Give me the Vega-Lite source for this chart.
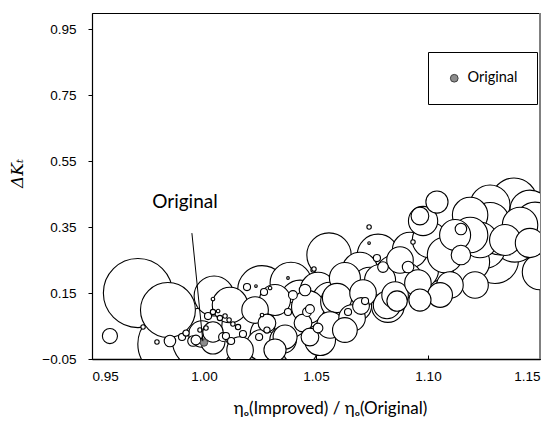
{
  "$schema": "https://vega.github.io/schema/vega-lite/v6.json",
  "width": 448,
  "height": 346,
  "autosize": {"type": "none"},
  "padding": {"left": 92, "top": 13, "right": 10, "bottom": 68},
  "config": {"view": {"stroke": "#000", "strokeWidth": 1}, "font": "Liberation Sans"},
  "encoding": {
    "x": {"field": "x", "type": "quantitative", "scale": {"domain": [0.95, 1.15], "nice": false, "zero": false},
      "title": "ηₒ(Improved) / ηₒ(Original)",
      "axis": {"values": [0.95, 1.0, 1.05, 1.1, 1.15], "format": ".2f", "grid": false, "domainColor": "#000", "domainWidth": 1.5,
        "tickColor": "#000", "tickSize": -4, "labelPadding": 14, "labelFontSize": 13.5, "labelColor": "#000", "labelFont": "Liberation Sans",
        "titleFont": "Lato", "titleFontSize": 17, "titleFontWeight": "normal", "titleColor": "#000", "titleX": 238, "titlePadding": 18}},
    "y": {"field": "y", "type": "quantitative", "scale": {"domain": [-0.05, 1.0], "nice": false, "zero": false},
      "title": "ΔKₜ",
      "axis": {"values": [-0.05, 0.15, 0.35, 0.55, 0.75, 0.95], "format": ".2f", "grid": false, "domainColor": "#000", "domainWidth": 1.2,
        "tickColor": "#000", "tickSize": 4, "labelPadding": 12, "labelFontSize": 13.5, "labelColor": "#000", "labelFont": "Liberation Sans",
        "titleFont": "DejaVu Serif", "titleFontStyle": "italic", "titleFontSize": 17, "titleFontWeight": "normal", "titleColor": "#000",
        "titleX": -66, "titleY": 160}}
  },
  "layer": [
    {
      "data": {"values": [{"x": 1.15, "y": -0.05, "y2": 1.0}]},
      "mark": {"type": "rule", "stroke": "#808080", "strokeWidth": 2},
      "encoding": {"y2": {"field": "y2"}}
    },
    {
      "data": {"values": [
        {"x":0.9705,"y":0.1502,"w":60.8},{"x":0.9839,"y":0.0986,"w":38.4},{"x":0.958,"y":0.0197,"w":2.9},
        {"x":0.9853,"y":-0.0046,"w":56.3},{"x":0.9996,"y":0.0106,"w":49},{"x":1.0045,"y":0.1411,"w":20.3},
        {"x":0.9991,"y":0.0258,"w":9},{"x":1.004,"y":0.0015,"w":7.3},{"x":1.004,"y":0.0319,"w":5.3},
        {"x":0.9728,"y":0.047,"w":0.25},{"x":0.979,"y":0.0015,"w":0.25},{"x":0.9848,"y":0.0046,"w":1.69},
        {"x":0.9902,"y":0.0167,"w":0.64},{"x":0.9951,"y":0.0046,"w":1.44},{"x":0.992,"y":0.0288,"w":0.49},
        {"x":0.9982,"y":0.0379,"w":0.25},{"x":1.0009,"y":0.044,"w":0.25},{"x":1.0018,"y":0.0804,"w":0.64},
        {"x":1.004,"y":0.0926,"w":0.36},{"x":1.0063,"y":0.0956,"w":0.16},{"x":1.0071,"y":0.0744,"w":0.36},
        {"x":1.004,"y":0.132,"w":0.16},{"x":1.0094,"y":0.0804,"w":0.25},{"x":1.0112,"y":0.0683,"w":0.25},
        {"x":1.0129,"y":0.0561,"w":0.25},{"x":1.0152,"y":0.047,"w":0.36},{"x":1.0098,"y":0.0197,"w":0.64},
        {"x":1.0121,"y":0.0046,"w":0.64},{"x":1.0085,"y":0.0167,"w":1.0},{"x":1.0174,"y":0.0258,"w":0.64},
        {"x":1.0192,"y":0.1684,"w":0.64},{"x":1.0232,"y":0.1715,"w":0.09},{"x":1.0268,"y":0.1533,"w":0.64},
        {"x":1.0295,"y":0.1654,"w":0.16},{"x":0.9964,"y":0.0076,"w":1.21},
        {"x":1.0388,"y":0.1806,"w":22.1},{"x":1.0192,"y":0.047,"w":32.5},{"x":1.0362,"y":0.0379,"w":25},
        {"x":1.0281,"y":0.0592,"w":4},{"x":1.0353,"y":0.0076,"w":9},{"x":1.0442,"y":0.0592,"w":4},
        {"x":1.0473,"y":0.0167,"w":4},{"x":1.0375,"y":0.0926,"w":0.64},{"x":1.0397,"y":0.1442,"w":1},
        {"x":1.0451,"y":0.1593,"w":1.69},{"x":1.0487,"y":0.22,"w":0.25},{"x":1.0375,"y":0.1958,"w":0.09},
        {"x":1.0246,"y":0.0167,"w":0.64},{"x":1.0259,"y":0.0835,"w":0.16},{"x":1.0281,"y":0.0379,"w":0.49},
        {"x":1.0558,"y":0.2656,"w":25},{"x":1.0777,"y":0.2656,"w":22.1},{"x":1.0737,"y":0.3505,"w":0.25},
        {"x":1.0737,"y":0.302,"w":0.09},{"x":1.0933,"y":0.305,"w":0.25},{"x":1.0491,"y":0.2231,"w":0.25},
        {"x":1.0978,"y":0.3687,"w":10.9},{"x":1.104,"y":0.4264,"w":6.25},{"x":1.0772,"y":0.2564,"w":0.64},
        {"x":1.0799,"y":0.2291,"w":1.44},{"x":1.0911,"y":0.2291,"w":1.69},{"x":1.0594,"y":0.135,"w":10.9},
        {"x":1.071,"y":0.1502,"w":9},{"x":1.0817,"y":0.1138,"w":9.6},{"x":1.0853,"y":0.1442,"w":9},
        {"x":1.0955,"y":0.1806,"w":9},{"x":1.0464,"y":0.1077,"w":13.7},{"x":1.0643,"y":0.0926,"w":0.64},
        {"x":1.0719,"y":0.1259,"w":0.64},{"x":1.0509,"y":0.044,"w":1.21},{"x":1.046,"y":0.0926,"w":1},
        {"x":1.0362,"y":0.0167,"w":7.3},{"x":1.0594,"y":0.1229,"w":13.7},{"x":1.0701,"y":0.1108,"w":3.6},
        {"x":1.0862,"y":0.1259,"w":5.3},{"x":1.0821,"y":0.1108,"w":13.7},{"x":1.0473,"y":0.1017,"w":1},
        {"x":1.0259,"y":-0.0076,"w":12.25},{"x":1.0429,"y":-0.0167,"w":16},{"x":1.0518,"y":0.0076,"w":12.25},
        {"x":1.0317,"y":-0.0228,"w":6.25},{"x":1.0563,"y":0.0531,"w":9},{"x":1.0629,"y":0.0379,"w":7.8},
        {"x":1.0661,"y":0.0744,"w":9},{"x":1.0161,"y":-0.0228,"w":9},{"x":1.0228,"y":0.0986,"w":9},
        {"x":1.0317,"y":0.129,"w":12.25},{"x":1.0509,"y":0.1593,"w":16},{"x":1.0629,"y":0.1958,"w":12.25},
        {"x":1.0696,"y":0.22,"w":16},{"x":1.0786,"y":0.1897,"w":12.25},{"x":1.0875,"y":0.2504,"w":9},
        {"x":1.092,"y":0.2807,"w":16},{"x":1.0259,"y":0.1593,"w":30.25},{"x":1.0116,"y":0.1138,"w":16},
        {"x":1.1384,"y":0.4294,"w":27},{"x":1.1147,"y":0.3445,"w":1.69},{"x":1.1147,"y":0.2656,"w":4.84},
        {"x":1.1299,"y":0.2504,"w":28.1},{"x":1.1076,"y":0.214,"w":22.1},{"x":1.1455,"y":0.302,"w":10.9},
        {"x":1.1536,"y":0.2959,"w":36},{"x":1.1188,"y":0.3869,"w":16},{"x":1.1277,"y":0.4173,"w":20.25},
        {"x":1.1455,"y":0.4021,"w":20.25},{"x":1.1121,"y":0.3263,"w":12.25},{"x":1.1009,"y":0.3111,"w":16},
        {"x":1.1232,"y":0.3111,"w":16},{"x":1.1411,"y":0.3566,"w":16},{"x":1.1344,"y":0.3111,"w":12.25},
        {"x":1.15,"y":0.214,"w":16},{"x":1.0964,"y":0.129,"w":6.25},{"x":1.1054,"y":0.1442,"w":7.8},
        {"x":1.121,"y":0.1745,"w":9},{"x":1.0964,"y":0.3839,"w":4},
        {"x":1.0295,"y":0.0228,"w":20.25},{"x":1.0384,"y":0.0683,"w":16},{"x":1.0429,"y":0.129,"w":20.25},
        {"x":1.0496,"y":0.0835,"w":17.6},{"x":1.0563,"y":0.129,"w":16},{"x":1.0629,"y":0.1593,"w":20.25},
        {"x":1.0674,"y":0.1138,"w":14.4},{"x":1.0741,"y":0.1745,"w":16},{"x":1.0808,"y":0.1593,"w":17.6},
        {"x":1.0853,"y":0.2049,"w":20.25},{"x":1.0897,"y":0.1897,"w":16},{"x":1.0964,"y":0.22,"w":17.6},
        {"x":1.1009,"y":0.2443,"w":20.25},{"x":1.1076,"y":0.2656,"w":16},{"x":1.1143,"y":0.2807,"w":20.25},
        {"x":1.1188,"y":0.2443,"w":19.4},{"x":1.1254,"y":0.2868,"w":21.2},{"x":1.1321,"y":0.3263,"w":20.25},
        {"x":1.1388,"y":0.3111,"w":25},{"x":1.1433,"y":0.3475,"w":23},{"x":1.1478,"y":0.3657,"w":20.25},
        {"x":1.1188,"y":0.3263,"w":16},{"x":1.1277,"y":0.3657,"w":19.4},{"x":1.1098,"y":0.1745,"w":9}
      ]},
      "mark": {"type": "circle", "fill": "#fff", "stroke": "#000", "strokeWidth": 1.1, "opacity": 1, "fillOpacity": 1, "clip": true},
      "encoding": {
        "size": {"field": "w", "type": "quantitative", "scale": {"type": "linear", "domain": [0, 100], "range": [0, 7854], "zero": true}, "legend": null},
        "order": {"field": "w", "type": "quantitative", "sort": "descending"}
      }
    },
    {
      "data": {"values": [{"x": 1.0, "y": 0.0, "series": "Original"}]},
      "mark": {"type": "circle", "size": 55, "stroke": "#404040", "strokeWidth": 1, "opacity": 1},
      "encoding": {
        "color": {"field": "series", "type": "nominal", "scale": {"domain": ["Original"], "range": ["#8c8c8c"]},
          "legend": {"title": null, "orient": "none", "legendX": 336, "legendY": 39, "padding": 19, "strokeColor": "#000", "fillColor": "#fff",
            "symbolType": "circle", "symbolSize": 60, "symbolStrokeColor": "#404040", "symbolStrokeWidth": 1, "symbolOpacity": 1,
            "labelFont": "Lato", "labelFontSize": 14.5, "labelColor": "#000", "labelOffset": 6}}
      }
    },
    {
      "data": {"values": [{"x": 0.9946, "y": 0.332, "x2": 0.9995, "y2": 0.004}]},
      "mark": {"type": "rule", "stroke": "#000", "strokeWidth": 1},
      "encoding": {"x2": {"field": "x2"}, "y2": {"field": "y2"}}
    },
    {
      "data": {"values": [{"x": 0.9915, "y": 0.4264, "label": "Original"}]},
      "mark": {"type": "text", "font": "Lato", "fontSize": 19, "fontWeight": "normal", "color": "#000", "align": "center", "baseline": "middle"},
      "encoding": {"text": {"field": "label"}}
    }
  ]
}
